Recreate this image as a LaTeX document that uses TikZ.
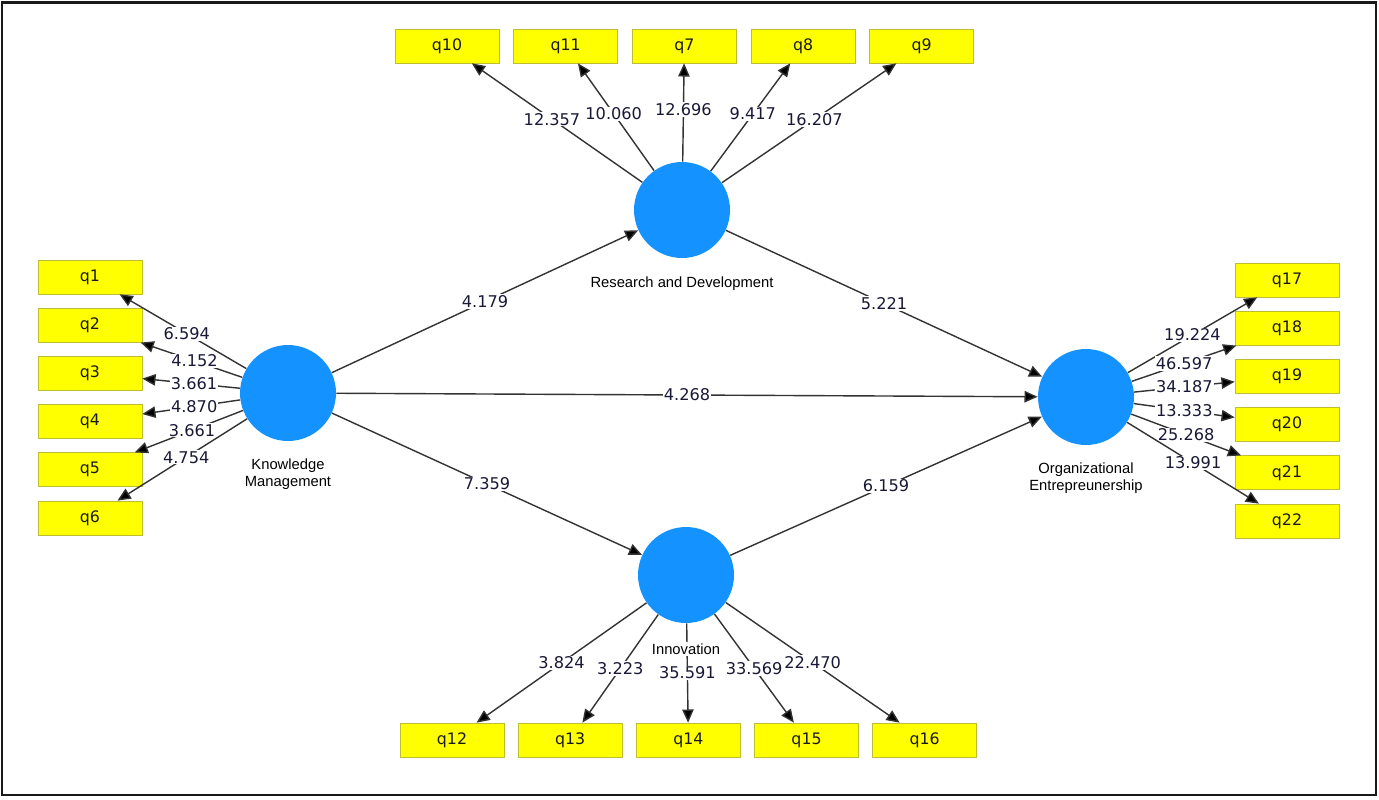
\documentclass[tikz,border=0pt]{standalone}
\usepackage{fontspec}
\setmainfont{Liberation Sans}
\newfontfamily\valfont{DejaVu Sans}
\usetikzlibrary{positioning,arrows.meta}
\definecolor{bleu}{RGB}{20,146,255}
\definecolor{jaune}{RGB}{255,255,0}
\definecolor{bord}{RGB}{190,190,50}
\definecolor{encre}{RGB}{25,25,55}

\begin{document}
\begin{tikzpicture}[
      x=0.02cm, y=-0.02cm,
      latent/.style={
        circle,
        fill=bleu,
        minimum size=1.92cm,
        inner sep=0pt
      },
      item/.style={
        draw=bord,
        fill=jaune,
        rectangle,
        minimum width=2.08cm,
        minimum height=0.68cm,
        inner sep=0pt,
        text=black!90,
        font=\valfont\fontsize{9}{10}\selectfont
      },
      nom/.style={
        fill=white,
        inner sep=1pt,
        align=center,
        font=\fontsize{8.4}{9.8}\selectfont
      },
      charge/.style={
        fill=white,
        inner sep=0.6pt,
        text=encre,
        font=\valfont\fontsize{9.2}{10}\selectfont
      },
      arr/.style={
        -{Triangle[length=7.5pt,width=6.5pt,fill=black]},
        draw=black!80,
        line width=0.8pt
      }
    ]
    \useasboundingbox (0,0) rectangle (1379,799);
    \draw[line width=1.4pt, black!90] (2,2.5) rectangle (1376,795);

    \node[latent] (km)  at (288,393)  {};
    \node[latent] (rd)  at (682,210)  {};
    \node[latent] (inn) at (686,575)  {};
    \node[latent] (oe)  at (1086,397) {};

    \node[item] (q1) at (90,277) {q1};
    \node[item, below=0.27cm of q1] (q2) {q2};
    \node[item, below=0.27cm of q2] (q3) {q3};
    \node[item, below=0.27cm of q3] (q4) {q4};
    \node[item, below=0.27cm of q4] (q5) {q5};
    \node[item, below=0.27cm of q5] (q6) {q6};

    \node[item] (q10) at (447,46) {q10};
    \node[item, right=0.28cm of q10] (q11) {q11};
    \node[item, right=0.28cm of q11] (q7)  {q7};
    \node[item, right=0.28cm of q7]  (q8)  {q8};
    \node[item, right=0.28cm of q8]  (q9)  {q9};

    \node[item] (q12) at (452,740) {q12};
    \node[item, right=0.27cm of q12] (q13) {q13};
    \node[item, right=0.27cm of q13] (q14) {q14};
    \node[item, right=0.27cm of q14] (q15) {q15};
    \node[item, right=0.27cm of q15] (q16) {q16};

    \node[item] (q17) at (1287,280) {q17};
    \node[item, below=0.27cm of q17] (q18) {q18};
    \node[item, below=0.27cm of q18] (q19) {q19};
    \node[item, below=0.27cm of q19] (q20) {q20};
    \node[item, below=0.27cm of q20] (q21) {q21};
    \node[item, below=0.27cm of q21] (q22) {q22};

    % inner model
    \draw[arr] (km)  -- node[charge] {4.179} (rd);
    \draw[arr] (km)  -- node[charge] {4.268} (oe);
    \draw[arr] (km)  -- node[charge] {7.359} (inn);
    \draw[arr] (rd)  -- node[charge] {5.221} (oe);
    \draw[arr] (inn) -- node[charge] {6.159} (oe);

    % loadings
    \draw[arr] (km) -- node[charge, pos=0.47] {6.594} (q1);
    \draw[arr] (km) -- node[charge, pos=0.47] {4.152} (q2);
    \draw[arr] (km) -- node[charge, pos=0.47] {3.661} (q3);
    \draw[arr] (km) -- node[charge, pos=0.47] {4.870} (q4);
    \draw[arr] (km) -- node[charge, pos=0.47] {3.661} (q5);
    \draw[arr] (km) -- node[charge, pos=0.47] {4.754} (q6);

    \draw[arr] (rd) -- node[charge, pos=0.53] {12.357} (q10);
    \draw[arr] (rd) -- node[charge, pos=0.53] {10.060} (q11);
    \draw[arr] (rd) -- node[charge, pos=0.53] {12.696} (q7);
    \draw[arr] (rd) -- node[charge, pos=0.53] {9.417}  (q8);
    \draw[arr] (rd) -- node[charge, pos=0.53] {16.207} (q9);

    \draw[arr] (inn) -- node[charge] {3.824}  (q12);
    \draw[arr] (inn) -- node[charge] {3.223}  (q13);
    \draw[arr] (inn) -- node[charge] {35.591} (q14);
    \draw[arr] (inn) -- node[charge] {33.569} (q15);
    \draw[arr] (inn) -- node[charge] {22.470} (q16);

    \draw[arr] (oe) -- node[charge] {19.224} (q17);
    \draw[arr] (oe) -- node[charge] {46.597} (q18);
    \draw[arr] (oe) -- node[charge] {34.187} (q19);
    \draw[arr] (oe) -- node[charge] {13.333} (q20);
    \draw[arr] (oe) -- node[charge] {25.268} (q21);
    \draw[arr] (oe) -- node[charge] {13.991} (q22);

    \node[nom, below=0.3cm of km]  (kmnom)  {Knowledge\\Management};
    \node[nom, below=0.32cm of rd] (rdnom)  {Research and Development};
    \node[nom, below=0.36cm of inn] (innnom) {Innovation};
    \node[nom, below=0.3cm of oe]  (oenom)  {Organizational\\Entrepreunership};
  \end{tikzpicture}
\end{document}
